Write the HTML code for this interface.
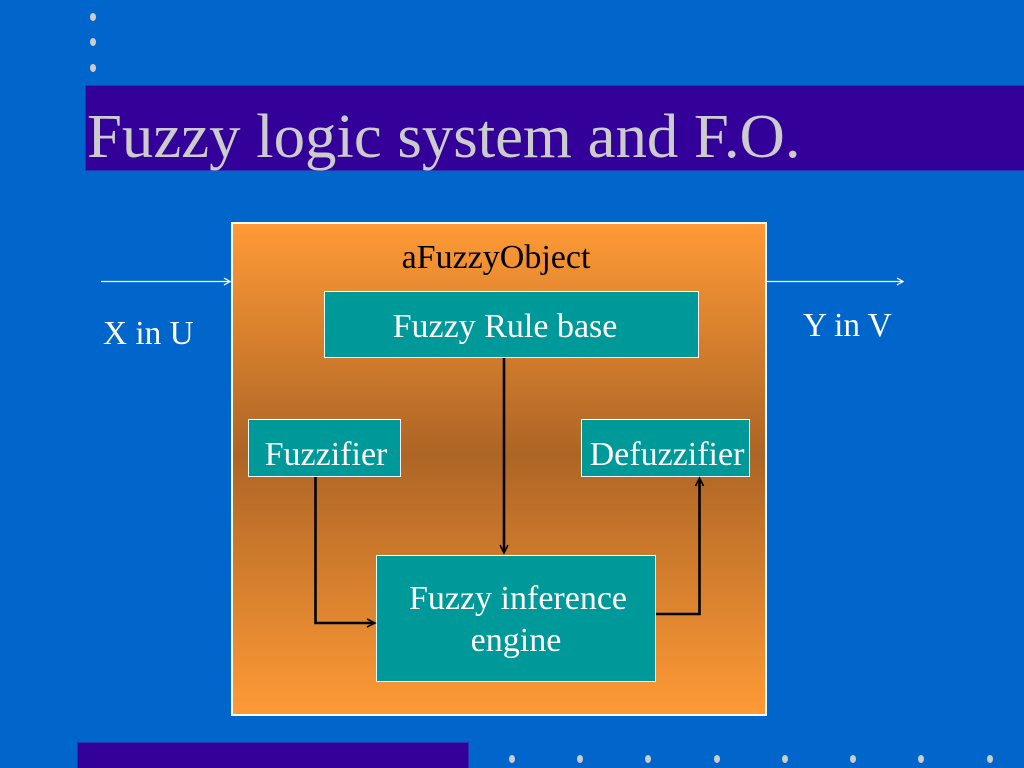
<!DOCTYPE html>
<html>
<head>
<meta charset="utf-8">
<style>
html,body{margin:0;padding:0;background:#0066CC;}
svg{display:block;}
text{font-family:"Liberation Serif","Times New Roman",serif;}
</style>
</head>
<body>
<svg width="1024" height="768" viewBox="0 0 1024 768" xmlns="http://www.w3.org/2000/svg">
  <defs>
    <linearGradient id="og" x1="0" y1="0" x2="0" y2="1">
      <stop offset="0" stop-color="#FF9A36"/>
      <stop offset="0.47" stop-color="#AD6525"/>
      <stop offset="1" stop-color="#FF9A36"/>
    </linearGradient>
  </defs>
  <rect x="0" y="0" width="1024" height="768" fill="#0066CC"/>

  <!-- top dots -->
  <ellipse cx="93" cy="17" rx="3" ry="4" fill="#CCCCCC"/>
  <ellipse cx="93" cy="42" rx="3" ry="4" fill="#CCCCCC"/>
  <ellipse cx="93" cy="68" rx="3" ry="4" fill="#CCCCCC"/>

  <!-- title bar -->
  <rect x="85.5" y="85.5" width="940" height="85" fill="#330099" stroke="#2a33b0" stroke-width="1"/>
  <text x="87" y="157" font-size="62.8" fill="#CCCCCC">Fuzzy logic system and F.O.</text>

  <!-- outer object box -->
  <rect x="232" y="223" width="534" height="492" fill="url(#og)" stroke="#FFFFFF" stroke-width="2"/>
  <text x="496" y="268" font-size="34" fill="#000000" text-anchor="middle">aFuzzyObject</text>

  <!-- input / output arrows -->
  <line x1="101" y1="281.5" x2="229" y2="281.5" stroke="#FFFFFF" stroke-width="1.3"/>
  <polyline points="224,278 230,281.5 224,285" fill="none" stroke="#FFFFFF" stroke-width="1.3"/>
  <line x1="767" y1="281.5" x2="903" y2="281.5" stroke="#FFFFFF" stroke-width="1.3"/>
  <polyline points="897,278 903,281.5 897,285" fill="none" stroke="#FFFFFF" stroke-width="1.3"/>
  <text x="103" y="344" font-size="33.3" fill="#FFFFFF">X in U</text>
  <text x="803" y="336" font-size="33.3" fill="#FFFFFF">Y in V</text>

  <!-- Fuzzy Rule base -->
  <rect x="324.5" y="291.5" width="374" height="66" fill="#009999" stroke="#FFFFFF" stroke-width="1"/>
  <text x="505" y="337" font-size="34" fill="#FFFFFF" text-anchor="middle">Fuzzy Rule base</text>

  <!-- Fuzzifier -->
  <rect x="248.5" y="419.5" width="152" height="57" fill="#009999" stroke="#FFFFFF" stroke-width="1"/>
  <text x="326" y="465" font-size="34" fill="#FFFFFF" text-anchor="middle">Fuzzifier</text>

  <!-- Defuzzifier -->
  <rect x="581.5" y="419.5" width="168" height="57" fill="#009999" stroke="#FFFFFF" stroke-width="1"/>
  <text x="667" y="465" font-size="34" fill="#FFFFFF" text-anchor="middle">Defuzzifier</text>

  <!-- Fuzzy inference engine -->
  <rect x="376.5" y="555.5" width="279" height="126" fill="#009999" stroke="#FFFFFF" stroke-width="1"/>
  <text x="518" y="609" font-size="34" fill="#FFFFFF" text-anchor="middle">Fuzzy inference</text>
  <text x="516" y="651" font-size="34" fill="#FFFFFF" text-anchor="middle">engine</text>

  <!-- connectors -->
  <line x1="504" y1="358" x2="504" y2="552" stroke="#000" stroke-width="2.6"/>
  <polyline points="500,545 504,553 508,545" fill="none" stroke="#000" stroke-width="1.6"/>

  <polyline points="315.5,477 315.5,623 373,623" fill="none" stroke="#000" stroke-width="2.6"/>
  <polyline points="367,619 375,623 367,627" fill="none" stroke="#000" stroke-width="1.6"/>

  <polyline points="656,614 699.5,614 699.5,480" fill="none" stroke="#000" stroke-width="2.6"/>
  <polyline points="695.5,486 699.5,478 703.5,486" fill="none" stroke="#000" stroke-width="1.6"/>

  <!-- bottom bar -->
  <rect x="77.5" y="742.5" width="391" height="27" fill="#330099" stroke="#2a33b0" stroke-width="1"/>

  <!-- bottom dots -->
  <ellipse cx="512" cy="759" rx="3" ry="4" fill="#CCCCCC"/>
  <ellipse cx="580" cy="759" rx="3" ry="4" fill="#CCCCCC"/>
  <ellipse cx="648" cy="759" rx="3" ry="4" fill="#CCCCCC"/>
  <ellipse cx="717" cy="759" rx="3" ry="4" fill="#CCCCCC"/>
  <ellipse cx="785" cy="759" rx="3" ry="4" fill="#CCCCCC"/>
  <ellipse cx="853" cy="759" rx="3" ry="4" fill="#CCCCCC"/>
  <ellipse cx="921" cy="759" rx="3" ry="4" fill="#CCCCCC"/>
  <ellipse cx="990" cy="759" rx="3" ry="4" fill="#CCCCCC"/>
</svg>
</body>
</html>
